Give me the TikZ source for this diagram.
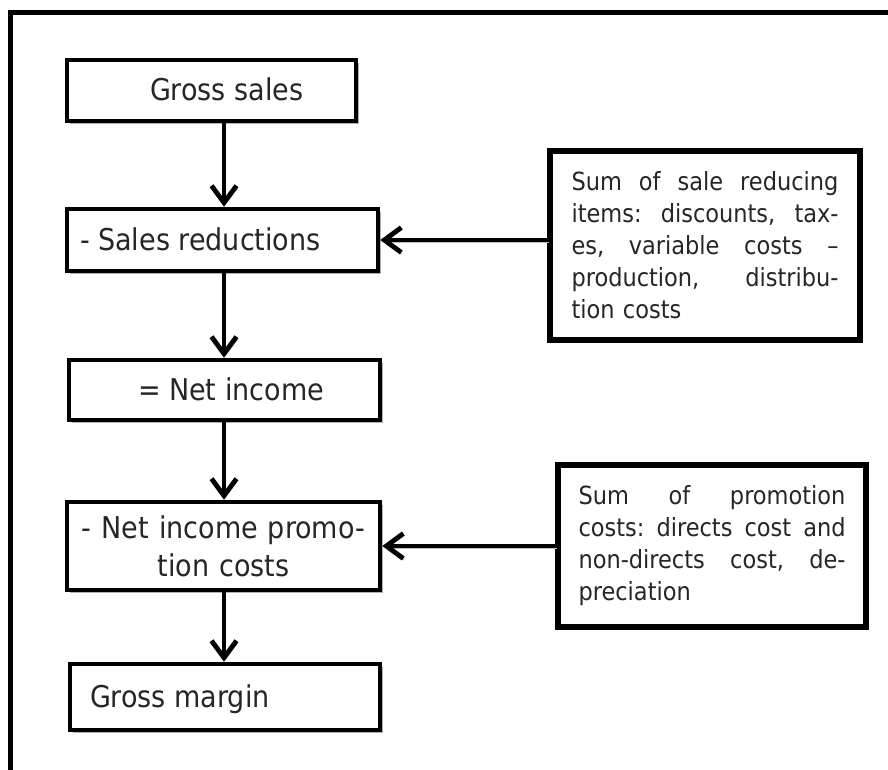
\documentclass[tikz,border=0pt]{standalone}
\usepackage{fontspec}
\setmainfont{DejaVu Sans Condensed}
\usetikzlibrary{arrows.meta,shadows}

% width of the justified text in the side boxes
\newlength\sidew
\setlength\sidew{267pt}
% one fully justified line of a side box
\newcommand\jline[1]{\hbox to\sidew{#1}}
% single-line label set at a given indent inside a box of given width
\newcommand\indented[3]{\makebox[#1pt][l]{\hspace*{#2pt}#3}}

\begin{document}
\begin{tikzpicture}[x=1pt,y=-1pt,
  ink/.style={text=black!85},
  boxshade/.style={drop shadow={shadow xshift=3.2pt,shadow yshift=-3.2pt,fill=black!30,opacity=1}},
  flowbox/.style={rectangle,draw=black,line width=4.5pt,fill=white,inner sep=0pt,ink,
    font=\fontsize{30}{35}\selectfont,boxshade},
  oneline/.style={text height=25.5pt,text depth=4.5pt},
  sidebox/.style={rectangle,draw=black,line width=5.5pt,fill=white,inner sep=0pt,ink,
    font=\fontsize{25}{32}\selectfont,text width=\sidew,align=left,boxshade},
  flowarrow/.style={line width=4.8pt,-{Straight Barb[length=17pt,width=25pt]},
    preaction={draw=black!25,transform canvas={shift={(1.5pt,-2pt)}}}},
  frameline/.style={line width=5pt}
]
\useasboundingbox (0,0) rectangle (888,770);

% outer frame (open towards the right and the bottom)
\draw[frameline] (10.5,770) -- (10.5,12.5) -- (890,12.5);

% main column
\node[flowbox,oneline,minimum width=289,minimum height=61]
  (gross) at (211.5,90.5) {\indented{289}{83}{Gross sales}};
\node[flowbox,oneline,minimum width=311,minimum height=62]
  (reduc) at (222.5,240) {\indented{311}{13}{- Sales reductions}};
\node[flowbox,oneline,minimum width=311,minimum height=60]
  (netinc) at (224.5,390) {\indented{311}{69}{= Net income}};
\node[flowbox,minimum width=313,minimum height=88,text width=313,align=center]
  (promo) at (223.5,546) {\vspace*{3pt}- Net income promo-\\tion costs};
\node[flowbox,oneline,minimum width=310,minimum height=66]
  (margin) at (225,697) {\indented{310}{20}{Gross margin}};

% explanatory boxes on the right
\node[sidebox,minimum width=310,minimum height=189] (sumsale) at (705,245.5)
  {\jline{Sum\hfill of\hfill sale\hfill reducing}
   \jline{items:\hfill discounts,\hfill tax-}
   \jline{es,\hfill variable\hfill costs\hfill –}
   \jline{production,\hfill distribu-}
   \jline{tion costs\hfill}};
\node[sidebox,minimum width=308,minimum height=162] (sumpromo) at (712,546)
  {\jline{Sum\hfill of\hfill promotion}
   \jline{costs:\hfill directs\hfill cost\hfill and}
   \jline{non-directs\hfill cost,\hfill de-}
   \jline{preciation\hfill}};

% connectors
\coordinate (axis) at (224,0);
\draw[flowarrow] (gross.south -| axis) -- (reduc.north -| axis);
\draw[flowarrow] (reduc.south -| axis) -- (netinc.north -| axis);
\draw[flowarrow] (netinc.south -| axis) -- (promo.north -| axis);
\draw[flowarrow] (promo.south -| axis) -- (margin.north -| axis);
\draw[flowarrow] (sumsale.west |- reduc.east) -- (reduc.east);
\draw[flowarrow] (sumpromo.west |- promo.east) -- (promo.east);
\end{tikzpicture}
\end{document}
